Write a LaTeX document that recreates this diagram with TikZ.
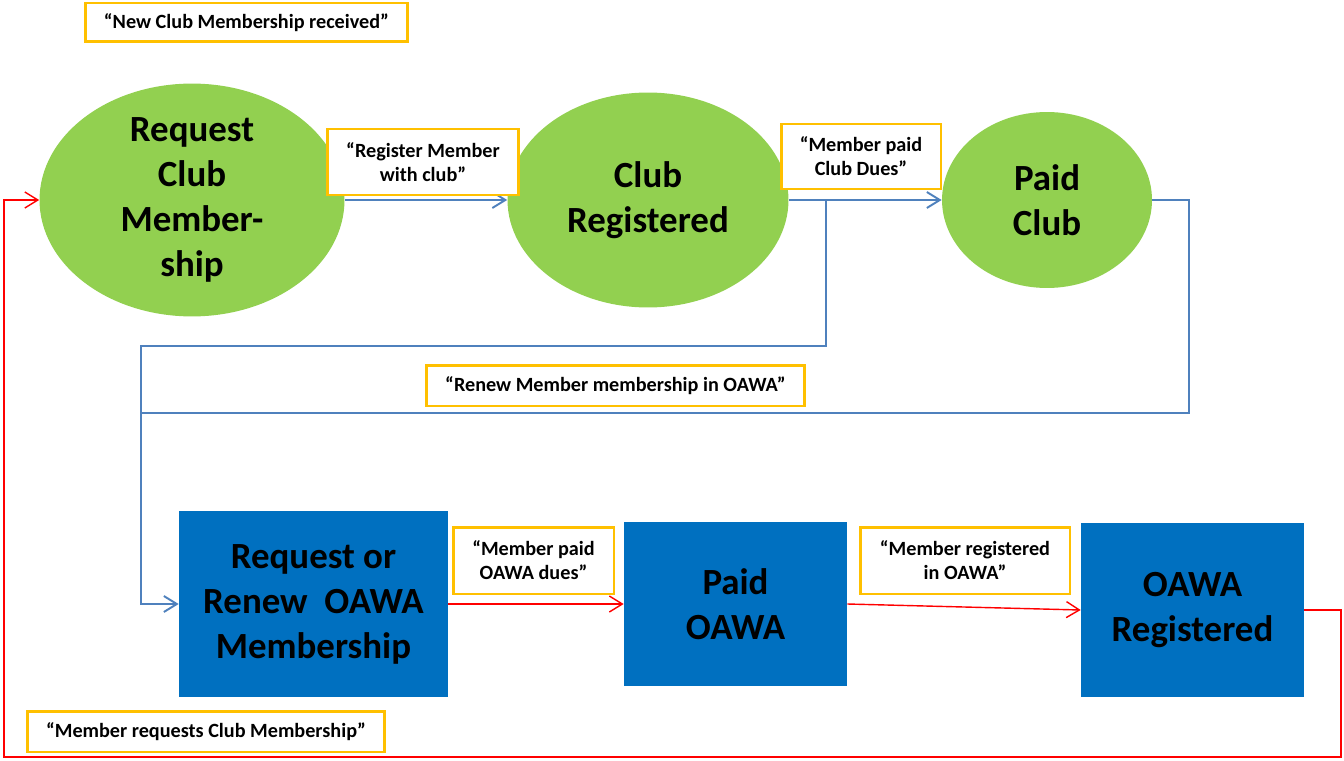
\documentclass[tikz,border=0pt]{standalone}
\usepackage{fontspec}
\setmainfont{Carlito}
\usetikzlibrary{shapes.geometric,arrows.meta}
\definecolor{clubgreen}{HTML}{92D050}
\definecolor{oawablue}{HTML}{0070C0}
\definecolor{lineblue}{HTML}{4F81BD}
\definecolor{noteorange}{HTML}{FFC000}
\begin{document}
\begin{tikzpicture}[x=0.02cm, y=-0.02cm, inner sep=0pt, align=center,
  clubstate/.style={ellipse, fill=clubgreen, font=\fontsize{21}{25.6}\selectfont\bfseries},
  oawabox/.style={rectangle, fill=oawablue, font=\fontsize{21}{25.6}\selectfont\bfseries},
  note/.style={rectangle, draw=noteorange, line width=1.7pt, fill=white, font=\fontsize{11.5}{13.7}\selectfont\bfseries},
  clubflow/.style={draw=lineblue, line width=1.1pt},
  oawaflow/.style={draw=red, line width=0.8pt},
  >={Straight Barb[length=2.6mm,width=3.2mm]}]
\useasboundingbox (0,0) rectangle (1344,760);
% states
\node[clubstate, minimum width=6.1cm, minimum height=4.42cm] (RC) at (192,200) {Request\\ Club\\ Member-\\ ship};
\node[clubstate, minimum width=5.62cm, minimum height=4.3cm] (CR) at (648,200) {Club\\ Registered};
\node[clubstate, minimum width=4.2cm, minimum height=3.52cm] (PC) at (1047,200) {Paid\\ Club};
\node[oawabox, minimum width=5.38cm, minimum height=3.72cm] (RO) at (313.5,604) {Request or\\ Renew\ \ OAWA\\ Membership};
\node[oawabox, minimum width=4.46cm, minimum height=3.28cm] (PO) at (735.5,604) {Paid\\ OAWA};
\node[oawabox, minimum width=4.46cm, minimum height=3.48cm] (OR) at (1192.5,610) {OAWA\\ Registered};
% connectors
\coordinate (S1) at (826,200);
\draw[clubflow, ->] (RC) -- (CR);
\draw[clubflow, ->] (CR) -- (PC);
\draw[clubflow, ->] (S1) |- (141,346) |- (RO.west);
\draw[clubflow] (PC.east) -| (1189,413) -- (141,413);
\draw[oawaflow, ->] (RO) -- (PO);
\draw[oawaflow, ->] (PO.east) -- (OR.west);
\draw[oawaflow, ->] (OR.east) -| (1341,757) -| (4,200) -- (RC.west);
% events
\node[note, minimum width=6.46cm, minimum height=0.78cm] (N1) at (246.5,22.5) {“New Club Membership received”};
\node[note, minimum width=3.84cm, minimum height=1.32cm] (N2) at (423,162) {“Register Member\\ with club”};
\node[note, minimum width=3.2cm, minimum height=1.3cm] (N3) at (861,156.5) {“Member paid\\ Club Dues”};
\node[note, minimum width=7.58cm, minimum height=0.82cm] (N4) at (615.5,385.5) {“Renew Member membership in OAWA”};
\node[note, minimum width=3.22cm, minimum height=1.34cm] (N5) at (533.5,560.5) {“Member paid\\ OAWA dues”};
\node[note, minimum width=4.2cm, minimum height=1.34cm] (N6) at (965,560.5) {“Member registered\\ in OAWA”};
\node[note, minimum width=7.16cm, minimum height=0.82cm] (N7) at (206,731.5) {“Member requests Club Membership”};
\end{tikzpicture}
\end{document}
